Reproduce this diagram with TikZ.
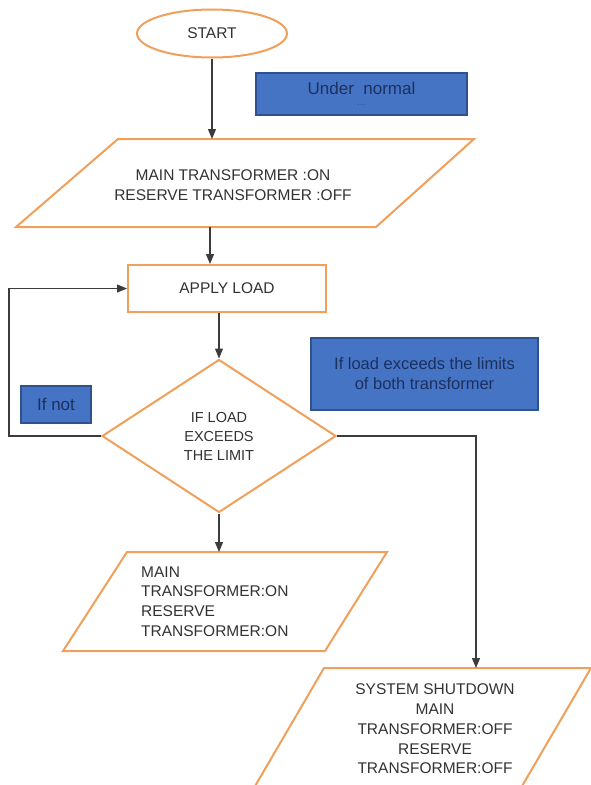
\documentclass[tikz,border=0pt]{standalone}
\usepackage{fontspec}
\setmainfont{Liberation Sans}
\usetikzlibrary{shapes.geometric,arrows.meta}
\definecolor{flowor}{RGB}{240,160,90}
\definecolor{boxblue}{RGB}{70,116,196}
\definecolor{boxedge}{RGB}{47,82,143}
\definecolor{navy}{RGB}{28,48,96}
\definecolor{ink}{RGB}{50,50,50}
\definecolor{wire}{RGB}{60,60,60}
\begin{document}
\begin{tikzpicture}[x=1pt,y=-1pt,
  flow/.style={draw=flowor,line width=2pt,fill=white},
  note/.style={draw=boxedge,line width=1.2pt,fill=boxblue,text=navy,inner sep=0pt,align=center},
  conn/.style={draw=wire,line width=1.1pt,-{Triangle[length=10pt,width=8pt]}},
  txt/.style={text=ink,font=\fontsize{15.5pt}{19.7pt}\selectfont,inner sep=0pt}]
\useasboundingbox (0,0) rectangle (591,785);
\fill[white] (0,0) rectangle (591,785);

% START
\node[flow,ellipse,minimum width=150pt,minimum height=48pt,txt] (start) at (212,33.5) {START};

% notes
\node[note,minimum width=211pt,minimum height=42pt,font=\fontsize{17pt}{17pt}\selectfont] (normal) at (361.5,94)
  {Under\ \ normal\\[-5pt]{\fontsize{5pt}{5pt}\selectfont - - -}};
\node[note,minimum width=227pt,minimum height=72pt,font=\fontsize{16.5pt}{20pt}\selectfont] (both) at (424.5,374)
  {If load exceeds the limits\\of both transformer};
\node[note,minimum width=70pt,minimum height=37pt,font=\fontsize{17pt}{17pt}\selectfont] (ifnot) at (56,404.5) {If not};

% parallelogram 1
\draw[flow] (118,139) -- (474,139) -- (376,227) -- (16,227) -- cycle;
\coordinate (p1top) at (212,139);
\coordinate (p1bot) at (210,227);
\node[txt,align=center] (m1) at (233,185) {MAIN TRANSFORMER :ON\\RESERVE TRANSFORMER :OFF};

% apply load
\node[flow,rectangle,minimum width=198pt,minimum height=47pt,txt] (apply) at (227,288.5) {APPLY LOAD};

% decision
\node[flow,diamond,minimum width=234pt,minimum height=153pt,txt,align=center,
  font=\fontsize{14.5pt}{19pt}\selectfont] (dec) at (219,436) {IF LOAD\\EXCEEDS\\THE LIMIT};

% parallelogram 2
\draw[flow] (127,552) -- (387,552) -- (325,651) -- (63,651) -- cycle;
\coordinate (p2top) at (219,552);
\node[txt,align=left,anchor=west] (m2) at (141,601.5) {MAIN\\TRANSFORMER:ON\\RESERVE\\TRANSFORMER:ON};

% parallelogram 3 (runs off the bottom)
\fill[white] (244,805) -- (324,668) -- (591,668) -- (511,805) -- cycle;
\draw[flow] (244,805) -- (324,668) -- (591,668) -- (511,805);
\coordinate (p3top) at (476,668);
\node[txt,align=center] (m3) at (435,729) {SYSTEM SHUTDOWN\\MAIN\\TRANSFORMER:OFF\\RESERVE\\TRANSFORMER:OFF};

% connectors
\draw[conn] (start.south) -- (start.south |- p1top);
\draw[conn] (p1bot) -- (p1bot |- apply.north);
\draw[conn] (dec.north |- apply.south) -- (dec.north);
\draw[conn] (dec.west) -- ++(-92,0) |- (apply.west);
\draw[conn] (dec.east) -| (p3top);
\draw[conn] (dec.south) -- (p2top);
\end{tikzpicture}
\end{document}
